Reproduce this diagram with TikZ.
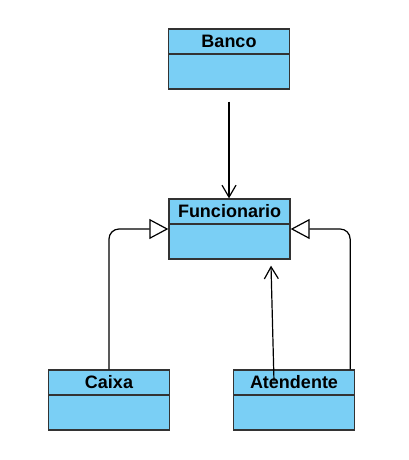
\documentclass[tikz,border=0pt]{standalone}
\usepackage{fontspec}
\setmainfont{Liberation Sans}
\usetikzlibrary{positioning,arrows.meta}
\definecolor{classblue}{RGB}{122,207,245}
\definecolor{classline}{RGB}{51,51,51}
\tikzstyle{classbox} = [draw=classline, fill=classblue, line width=1.3pt, minimum width=121pt, minimum height=60pt, inner sep=0pt]
\tikzstyle{classhead} = [draw=classline, line width=1.3pt, minimum width=121pt, minimum height=25pt, inner sep=0pt, font=\fontsize{18}{20}\selectfont\bfseries]
\tikzstyle{assoc} = [line width=1.2pt, -{Straight Barb[length=12pt,width=14pt]}]
\tikzstyle{inherit} = [line width=1.2pt, rounded corners=10pt, -{Triangle[open,length=19pt,width=20pt,fill=white]}]

\begin{document}
\begin{tikzpicture}[x=1pt, y=-1pt]
			\useasboundingbox (0,0) rectangle (409,460);
			\node[classbox] (banco) at (229, 59) {};
			\node[classhead, anchor=north] (bancoT) at (banco.north) {Banco};
			\node[classbox] (func) at (229.5, 229) {};
			\node[classhead, anchor=north] (funcT) at (func.north) {Funcionario};
			\node[classbox] (caixa) at (109, 400) {};
			\node[classhead, anchor=north] (caixaT) at (caixa.north) {Caixa};
			\node[classbox] (atend) at (294, 400) {};
			\node[classhead, anchor=north] (atendT) at (atend.north) {Atendente};
			\draw[assoc, shorten <=12pt] (banco.south) -- (banco.south |- func.north);
			\draw[inherit] (caixa.north) |- (func.west);
			\draw[inherit] ([xshift=-5pt]atend.north east) |- (func.east);
			\draw[assoc] ([xshift=-20pt, yshift=-12pt]atend.north) -- ([xshift=41.5pt, yshift=-6pt]func.south);
		\end{tikzpicture}
\end{document}
